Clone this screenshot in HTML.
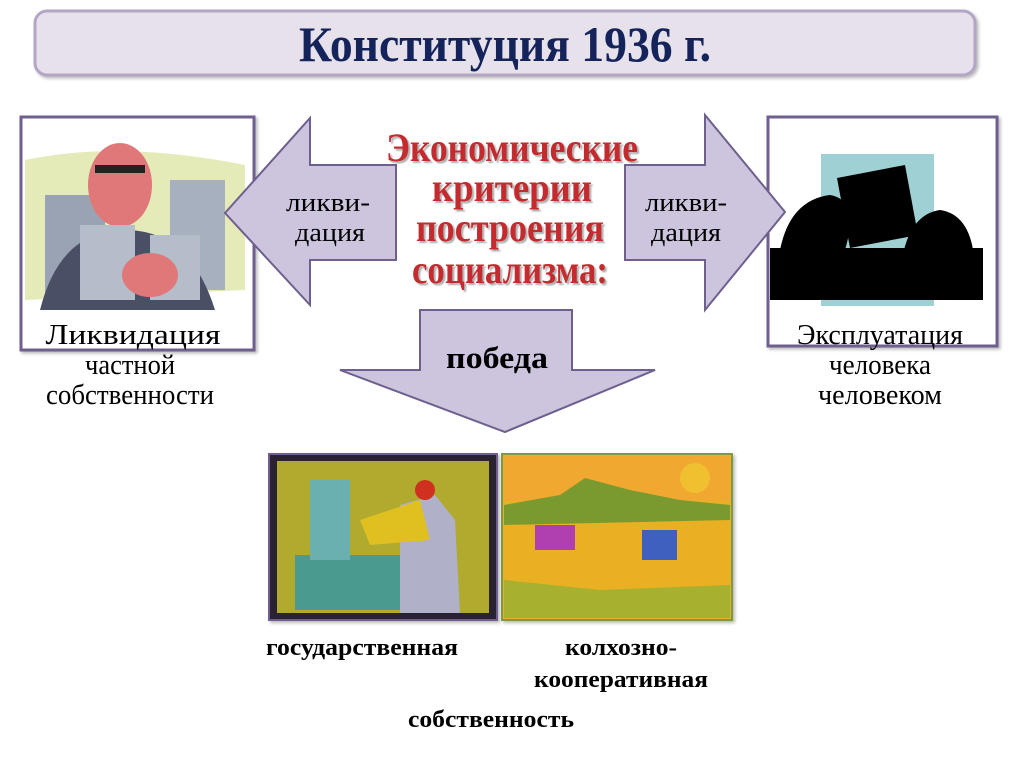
<!DOCTYPE html>
<html><head><meta charset="utf-8"><style>
html,body{margin:0;padding:0;background:#fff;}
svg{display:block}
.t{font-family:"Liberation Serif",serif;}
</style></head><body>
<svg width="1024" height="767" viewBox="0 0 1024 767" xmlns="http://www.w3.org/2000/svg">
<defs>
<filter id="sh" x="-10%" y="-10%" width="130%" height="130%"><feDropShadow dx="2" dy="2" stdDeviation="1.5" flood-color="#888" flood-opacity="0.6"/></filter>
<filter id="ts"><feDropShadow dx="2" dy="2" stdDeviation="0.8" flood-color="#999" flood-opacity="0.8"/></filter>
</defs>
<!-- title -->
<rect x="35" y="11" width="940" height="64" rx="12" fill="#e7e1ec" stroke="#b6a6c6" stroke-width="3" filter="url(#sh)"/>
<text class="t" x="505" y="61" text-anchor="middle" font-size="50" font-weight="bold" fill="#14245a" textLength="412" lengthAdjust="spacingAndGlyphs">Конституция 1936 г.</text>

<!-- left box -->
<rect x="21" y="117" width="233" height="233" fill="#fff" stroke="#6e5f8e" stroke-width="3" filter="url(#sh)"/>
<path d="M25 160 Q120 140 245 165 L245 290 L25 300Z" fill="#e4eab8"/>
<rect x="45" y="195" width="60" height="110" fill="#9aa3b3"/>
<rect x="170" y="180" width="55" height="110" fill="#a7b0bf"/>
<path d="M40 310 Q60 230 125 230 Q190 230 215 310Z" fill="#4b4f66"/>
<ellipse cx="120" cy="185" rx="32" ry="42" fill="#e0787a"/>
<rect x="80" y="225" width="55" height="75" fill="#b5bdca"/>
<rect x="150" y="235" width="50" height="65" fill="#b5bdca"/>
<ellipse cx="150" cy="275" rx="28" ry="22" fill="#e0787a"/>
<rect x="95" y="165" width="50" height="8" fill="#222"/>
<text class="t" x="133" y="344" text-anchor="middle" font-size="28" textLength="175" lengthAdjust="spacingAndGlyphs">Ликвидация</text>
<text class="t" x="130" y="374" text-anchor="middle" font-size="28" textLength="90" lengthAdjust="spacingAndGlyphs">частной</text>
<text class="t" x="130" y="404" text-anchor="middle" font-size="28" textLength="168" lengthAdjust="spacingAndGlyphs">собственности</text>

<!-- right box -->
<rect x="768" y="117" width="229" height="229" fill="#fff" stroke="#6e5f8e" stroke-width="3" filter="url(#sh)"/>
<rect x="821" y="154" width="113" height="152" fill="#9fd0d3"/>
<rect x="770" y="248" width="213" height="52" fill="#000"/>
<path d="M780 250 Q790 200 830 195 Q860 200 845 250Z" fill="#000"/>
<path d="M900 275 Q905 215 940 210 Q975 215 975 275Z" fill="#000"/>
<polygon points="837,178 905,165 918,235 850,248" fill="#000"/>
<text class="t" x="880" y="344" text-anchor="middle" font-size="28" textLength="166" lengthAdjust="spacingAndGlyphs">Эксплуатация</text>
<text class="t" x="880" y="374" text-anchor="middle" font-size="28" textLength="102" lengthAdjust="spacingAndGlyphs">человека</text>
<text class="t" x="880" y="404" text-anchor="middle" font-size="28" textLength="124" lengthAdjust="spacingAndGlyphs">человеком</text>

<!-- arrows -->
<polygon points="225,213 310,118 310,165 396,165 396,260 310,260 310,305" fill="#cdc4dd" stroke="#6e5f8e" stroke-width="2"/>
<polygon points="785,212 705,115 705,165 625,165 625,260 705,260 705,310" fill="#cdc4dd" stroke="#6e5f8e" stroke-width="2"/>
<polygon points="420,310 572,310 572,370 655,370 505,432 340,370 420,370" fill="#cdc4dd" stroke="#6e5f8e" stroke-width="2"/>
<text class="t" x="328" y="211" text-anchor="middle" font-size="26" textLength="84" lengthAdjust="spacingAndGlyphs">ликви-</text>
<text class="t" x="330" y="241" text-anchor="middle" font-size="26" textLength="70" lengthAdjust="spacingAndGlyphs">дация</text>
<text class="t" x="686" y="211" text-anchor="middle" font-size="26" textLength="82" lengthAdjust="spacingAndGlyphs">ликви-</text>
<text class="t" x="686" y="241" text-anchor="middle" font-size="26" textLength="70" lengthAdjust="spacingAndGlyphs">дация</text>
<text class="t" x="497" y="368" text-anchor="middle" font-size="31" font-weight="bold" textLength="102" lengthAdjust="spacingAndGlyphs">победа</text>

<!-- center red text -->
<g class="t" font-size="40" font-weight="bold" fill="#c42a2e" text-anchor="middle" filter="url(#ts)">
<text x="512" y="161" textLength="252" lengthAdjust="spacingAndGlyphs">Экономические</text>
<text x="512" y="201" textLength="160" lengthAdjust="spacingAndGlyphs">критерии</text>
<text x="510" y="241" textLength="188" lengthAdjust="spacingAndGlyphs">построения</text>
<text x="510" y="283" textLength="196" lengthAdjust="spacingAndGlyphs">социализма:</text>
</g>

<!-- bottom images -->
<rect x="269" y="454" width="228" height="166" fill="#2a2030" stroke="#6e5f8e" stroke-width="2" filter="url(#sh)"/>
<rect x="277" y="461" width="212" height="152" fill="#b0aa2e"/>
<rect x="295" y="555" width="110" height="55" fill="#4a9a90"/>
<rect x="310" y="480" width="40" height="80" fill="#6ab0b0"/>
<path d="M400 505 L435 495 L455 520 L460 613 L400 613 Z" fill="#b0b0c8"/>
<path d="M360 520 L420 500 L430 540 L370 545Z" fill="#e0c020"/>
<circle cx="425" cy="490" r="10" fill="#d03020"/>
<rect x="502" y="454" width="230" height="166" fill="#e8b020" stroke="#7a9a4a" stroke-width="2" filter="url(#sh)"/>
<rect x="504" y="456" width="226" height="45" fill="#f0a830"/>
<path d="M504 505 L560 495 L585 478 L630 490 L680 500 L730 505 L730 520 L504 525Z" fill="#7a9a30"/>
<path d="M504 580 L600 590 L730 585 L730 618 L504 618Z" fill="#a8b030"/>
<circle cx="695" cy="478" r="15" fill="#f0c030"/>
<rect x="535" y="525" width="40" height="25" fill="#b040b0"/>
<rect x="642" y="530" width="35" height="30" fill="#4060c0"/>

<g class="t" font-size="24" font-weight="bold" text-anchor="middle">
<text x="362" y="655" textLength="192" lengthAdjust="spacingAndGlyphs">государственная</text>
<text x="621" y="655" textLength="112" lengthAdjust="spacingAndGlyphs">колхозно-</text>
<text x="621" y="687" textLength="174" lengthAdjust="spacingAndGlyphs">кооперативная</text>
<text x="491" y="727" textLength="166" lengthAdjust="spacingAndGlyphs">собственность</text>
</g>
</svg>
</body></html>
